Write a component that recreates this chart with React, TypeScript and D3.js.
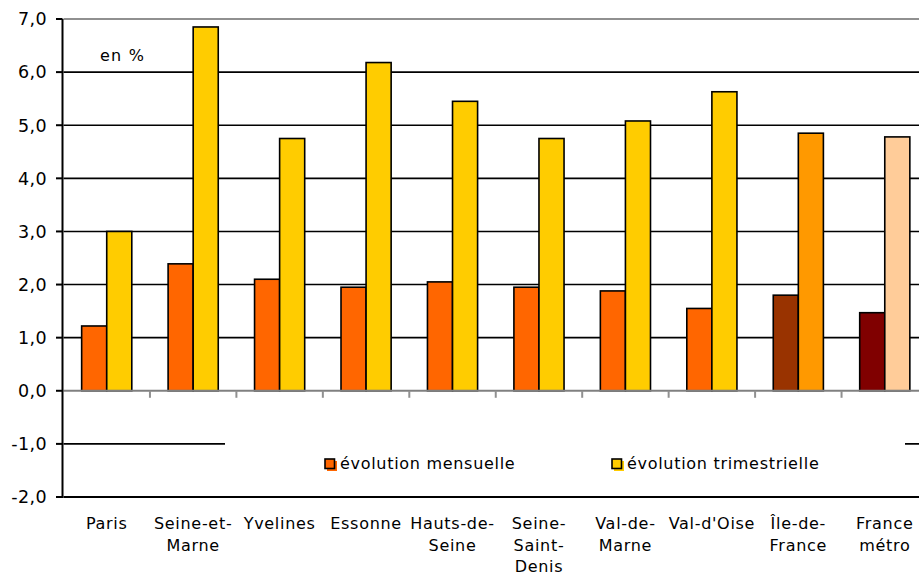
import React from "react";
import * as d3 from "d3";

const categories = ["Paris", "Seine-et-Marne", "Yvelines", "Essonne", "Hauts-de-Seine", "Seine-Saint-Denis", "Val-de-Marne", "Val-d'Oise", "Île-de-France", "France métro"];
const categoryLabelLines = [["Paris"], ["Seine-et-", "Marne"], ["Yvelines"], ["Essonne"], ["Hauts-de-", "Seine"], ["Seine-", "Saint-", "Denis"], ["Val-de-", "Marne"], ["Val-d'Oise"], ["Île-de-", "France"], ["France", "métro"]];
const mensuelle = [1.22, 2.39, 2.1, 1.95, 2.05, 1.95, 1.88, 1.55, 1.8, 1.47];
const trimestrielle = [3.0, 6.85, 4.75, 6.18, 5.45, 4.75, 5.08, 5.63, 4.85, 4.78];
const mensuelleColors = ["#FF6600", "#FF6600", "#FF6600", "#FF6600", "#FF6600", "#FF6600", "#FF6600", "#FF6600", "#993300", "#800000"];
const trimestrielleColors = ["#FFCC00", "#FFCC00", "#FFCC00", "#FFCC00", "#FFCC00", "#FFCC00", "#FFCC00", "#FFCC00", "#FF9900", "#FFCC99"];
const seriesNames = ["évolution mensuelle", "évolution trimestrielle"];
const legendColors = ["#FF6600", "#FFCC00"];
const yTicks = [-2, -1, 0, 1, 2, 3, 4, 5, 6, 7];
const unitLabel = "en %";

export default function App() {
  const W = 919, H = 575;
  const left = 63.5, right = 928, top = 19, bottom = 497;
  const y = d3.scaleLinear().domain([-2, 7]).range([bottom, top]);
  const x = d3.scaleBand<string>().domain(categories).range([left, right]).paddingInner(0.42).paddingOuter(0.21);
  const step = x.step();
  const xs = d3.scaleBand<string>().domain(["m", "t"]).range([0, x.bandwidth()]).padding(0);
  const fmt = (v: number) => d3.format(".1f")(v).replace(".", ",").replace("\u2212", "-");
  const font = "'DejaVu Sans', Verdana, sans-serif";
  const y0 = y(0);

  return (
    <svg width={W} height={H} style={{ position: "absolute", left: 0, top: 0, background: "#fff" }} fontFamily={font}>
      <rect x={0} y={0} width={W} height={H} fill="#fff" />
      {yTicks.filter((t) => t !== 0 && t !== 7 && t !== -2).map((t) => (
        <line key={t} x1={left} x2={right} y1={y(t)} y2={y(t)} stroke="#000" strokeWidth={1.6} />
      ))}
      <line x1={left} x2={right} y1={y(7)} y2={y(7)} stroke="#909090" strokeWidth={2} />
      <line x1={left} x2={right} y1={y(-2)} y2={y(-2)} stroke="#000" strokeWidth={2} />
      <rect x={225} y={418} width={680} height={64} fill="#fff" />
      {categories.map((c, i) => (
        <g key={c}>
          <rect x={(x(c) as number) + (xs("m") as number)} y={y(mensuelle[i])} width={xs.bandwidth()} height={y0 - y(mensuelle[i])} fill={mensuelleColors[i]} stroke="#000" strokeWidth={1.6} />
          <rect x={(x(c) as number) + (xs("t") as number)} y={y(trimestrielle[i])} width={xs.bandwidth()} height={y0 - y(trimestrielle[i])} fill={trimestrielleColors[i]} stroke="#000" strokeWidth={1.6} />
        </g>
      ))}
      <line x1={left} x2={right} y1={y0} y2={y0} stroke="#808080" strokeWidth={2} />
      {categories.slice(1).map((c, i) => (
        <line key={c} x1={left + step * (i + 1)} x2={left + step * (i + 1)} y1={y0} y2={y0 + 7} stroke="#909090" strokeWidth={2} />
      ))}
      <line x1={62.5} x2={62.5} y1={top} y2={bottom + 1} stroke="#000" strokeWidth={2} />
      {yTicks.map((t) => (
        <g key={t}>
          <line x1={56} x2={62.5} y1={y(t)} y2={y(t)} stroke="#000" strokeWidth={2} />
          <text x={47} y={y(t)} dy="0.36em" textAnchor="end" fontSize={17.5} letterSpacing={0.4} fill="#000">{fmt(t)}</text>
        </g>
      ))}
      {categories.map((c, i) => (
        <text key={c} textAnchor="middle" fontSize={16} letterSpacing={0.7} fill="#000">
          {categoryLabelLines[i].map((l, j) => (
            <tspan key={j} x={(x(c) as number) + x.bandwidth() / 2} y={529 + j * 21.5}>{l}</tspan>
          ))}
        </text>
      ))}
      <text x={100} y={61} fontSize={16} letterSpacing={1.2} fill="#000">{unitLabel}</text>
      {seriesNames.map((s, i) => {
        const lx = i === 0 ? 325 : 612;
        return (
          <g key={s}>
            <rect x={lx + 2} y={459 + 2} width={10} height={10} fill={legendColors[i]} />
            <rect x={lx} y={459} width={9.5} height={9.5} fill={legendColors[i]} stroke="#000" strokeWidth={1.6} />
            <text x={lx + 15} y={469} fontSize={16} letterSpacing={0.7} fill="#000">{s}</text>
          </g>
        );
      })}
    </svg>
  );
}
